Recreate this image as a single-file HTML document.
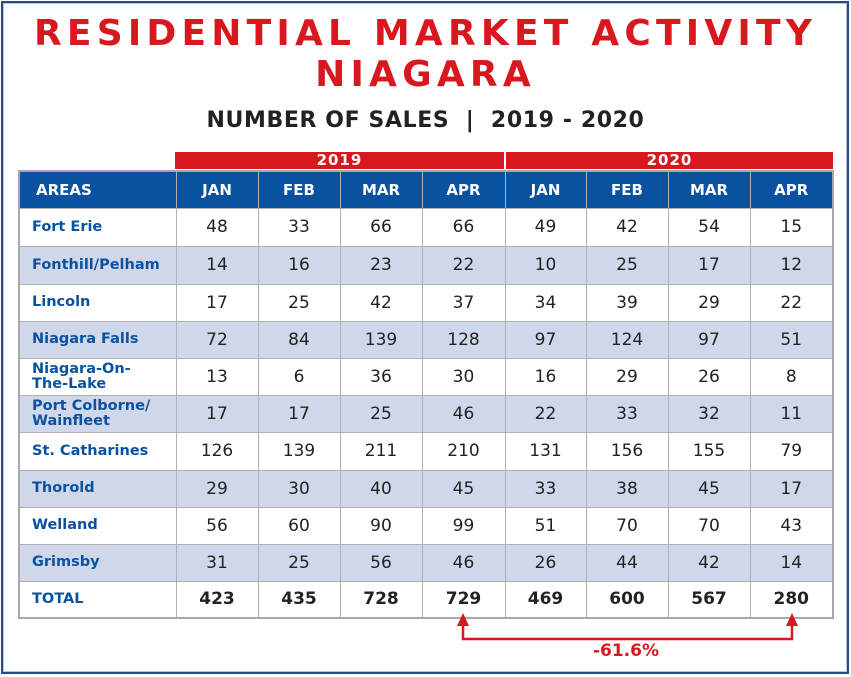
<!DOCTYPE html>
<html><head><meta charset="utf-8"><style>
*{margin:0;padding:0;box-sizing:border-box}
body{width:851px;height:677px;background:#fff;position:relative;overflow:hidden;font-family:"DejaVu Sans","Liberation Sans",sans-serif}
#frame{position:absolute;left:1px;top:1px;width:848px;height:673px;border:2px solid #2a4a86;box-shadow:inset 0 0 0 1px #b8c4da}
.t1{position:absolute;left:0;width:851px;text-align:center;color:#d7191f;font-weight:bold;font-size:36px;letter-spacing:5.2px;font-family:"DejaVu Sans",sans-serif}
#sub{position:absolute;left:0;width:851px;top:108px;text-align:center;font-weight:bold;font-size:22px;letter-spacing:0.6px;color:#222}
.yr{position:absolute;top:152px;height:17px;background:#d7191f;color:#fff;font-weight:bold;font-size:15px;text-align:center;line-height:17px;letter-spacing:1px}
table{position:absolute;left:18px;top:170px;border-collapse:collapse;border:2px solid #a8a8a8}
td,th{border:1px solid #b0b0b0;text-align:center;font-size:17px;color:#222;padding:0}
th{background:#0a52a0;color:#fff;font-size:15px;height:37px}
th.a{text-align:left;padding-left:16px}
td.a{text-align:left;padding-left:12px;color:#0a52a0;font-weight:bold;font-size:14.5px;line-height:15px}
tr.alt td{background:#d0d7ea}
tr.tot td{font-weight:bold;font-size:17px}
tr.tot td.a{font-size:14.5px}
#pct{position:absolute;left:560px;width:132px;top:641px;text-align:center;color:#d7191f;font-weight:bold;font-size:17px}
</style></head><body>
<div id="frame"></div>
<div class="t1" style="top:13px">RESIDENTIAL MARKET ACTIVITY</div>
<div class="t1" style="top:54px">NIAGARA</div>
<div id="sub">NUMBER OF SALES &nbsp;|&nbsp; 2019 - 2020</div>
<div class="yr" style="left:175px;width:329px">2019</div>
<div class="yr" style="left:506px;width:327px">2020</div>
<table id="tbl"></table>
<svg style="position:absolute;left:0;top:0" width="851" height="677">
<path d="M463 626 V639 H792 V626" fill="none" stroke="#d7191f" stroke-width="2.5"/>
<polygon points="457,626 469,626 463,613" fill="#d7191f"/>
<polygon points="786,626 798,626 792,613" fill="#d7191f"/>
</svg>
<div id="pct">-61.6%</div>
<script>
const months=["JAN","FEB","MAR","APR","JAN","FEB","MAR","APR"];
const areas=["Fort Erie","Fonthill/Pelham","Lincoln","Niagara Falls","Niagara-On-<br>The-Lake","Port Colborne/<br>Wainfleet","St. Catharines","Thorold","Welland","Grimsby"];
const vals=[[48,33,66,66,49,42,54,15],[14,16,23,22,10,25,17,12],[17,25,42,37,34,39,29,22],[72,84,139,128,97,124,97,51],[13,6,36,30,16,29,26,8],[17,17,25,46,22,33,32,11],[126,139,211,210,131,156,155,79],[29,30,40,45,33,38,45,17],[56,60,90,99,51,70,70,43],[31,25,56,46,26,44,42,14]];
const totals=[423,435,728,729,469,600,567,280];
const widths=[157,82,82,82,83,81,82,82,83];
const t=document.getElementById('tbl');
let h='<tr><th class="a" style="width:'+widths[0]+'px">AREAS</th>';
months.forEach((m,i)=>{h+='<th style="width:'+widths[i+1]+'px">'+m+'</th>';});
h+='</tr>';
const rh=[38,38,37,37,37,37,38,37,37,37];
areas.forEach((a,r)=>{h+='<tr class="'+(r%2?'alt':'')+'" style="height:'+rh[r]+'px"><td class="a">'+a+'</td>';
vals[r].forEach(v=>{h+='<td>'+v+'</td>';});h+='</tr>';});
h+='<tr class="tot" style="height:37px"><td class="a">TOTAL</td>';
totals.forEach(v=>{h+='<td>'+v+'</td>';});
h+='</tr>';
t.innerHTML=h;
</script>
</body></html>
